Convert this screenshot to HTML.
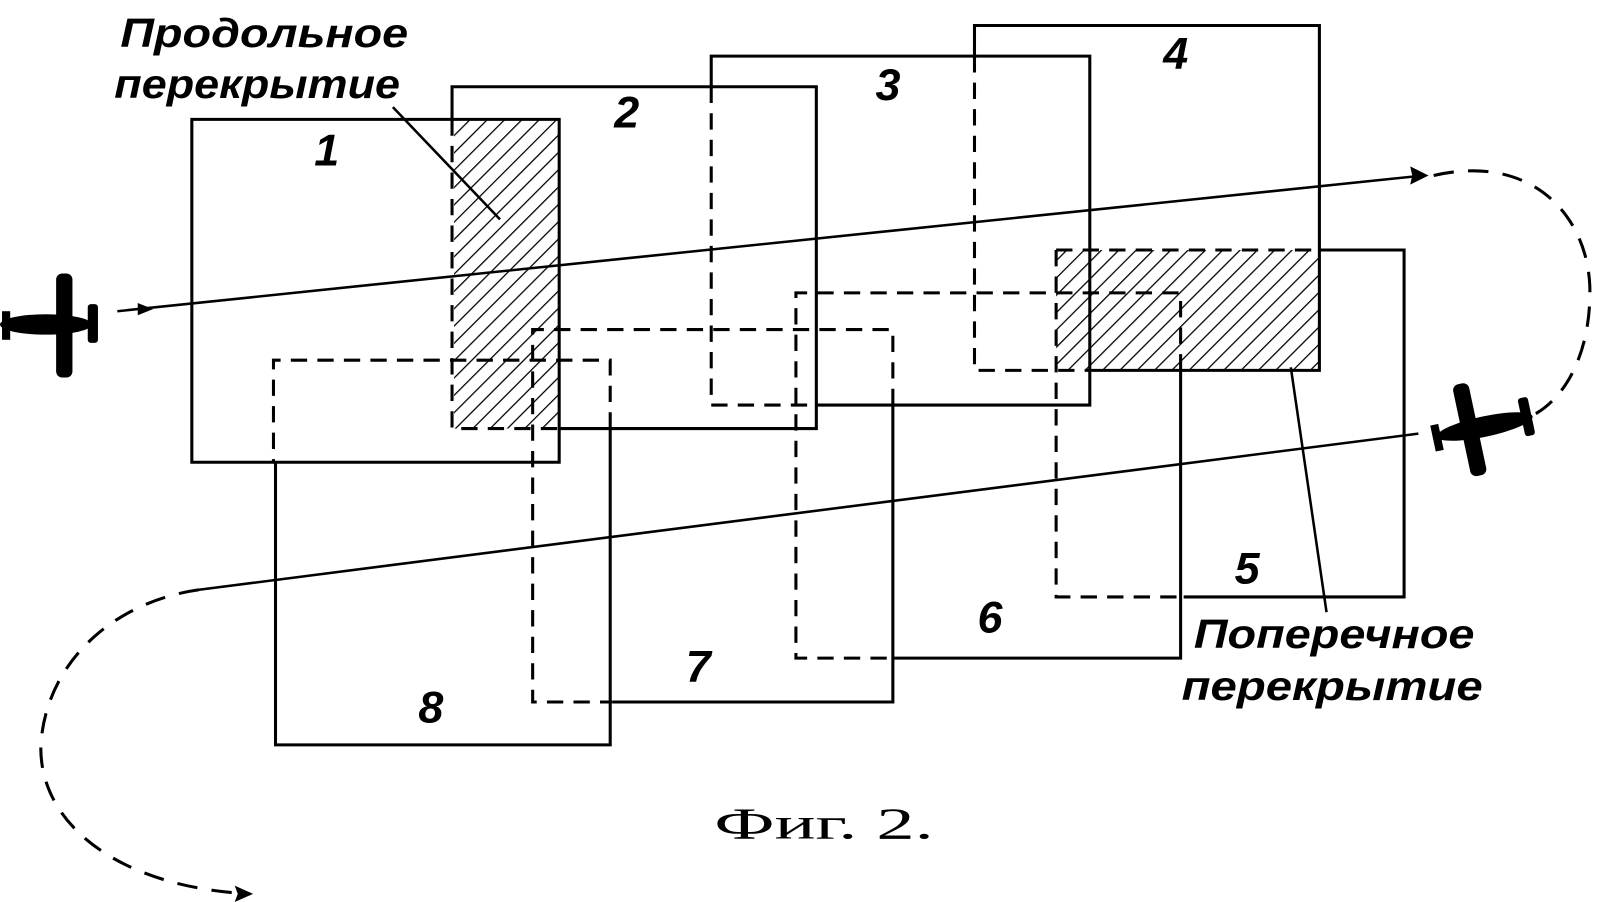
<!DOCTYPE html>
<html><head><meta charset="utf-8"><style>html,body{margin:0;padding:0;background:#fff;width:1600px;height:902px;overflow:hidden}</style></head>
<body>
<svg width="1600" height="902" viewBox="0 0 1568 884" preserveAspectRatio="none" xmlns="http://www.w3.org/2000/svg">
<defs>
<pattern id="h" width="12" height="12" patternUnits="userSpaceOnUse" patternTransform="rotate(45)">
<line x1="0" y1="0" x2="0" y2="12" stroke="#000" stroke-width="2.5"/></pattern>
</defs>
<rect width="1568" height="884" fill="#fff"/>
<rect x="445" y="117" width="103" height="303" fill="url(#h)"/>
<rect x="1035" y="245" width="258" height="118" fill="url(#h)"/>
<g fill="none" stroke="#000" stroke-width="3">
<path d="M188 117H548V453H188Z"/>
<path d="M443 117V85H800V420H548"/>
<path d="M697 85V55H1068V397H800"/>
<path d="M955 55V25H1293V363H1068"/>
<path d="M1293 245H1376V585H1160"/>
<path d="M1157 363V645H875"/>
<path d="M875 397V688H600"/>
<path d="M598 420V730H270V453"/>
</g>
<g fill="none" stroke="#000" stroke-width="3" stroke-dasharray="16 10">
<path d="M443 117V420H548"/>
<path d="M697 85V397H800"/>
<path d="M955 55V363H1068"/>
<path d="M1035 245H1293M1035 245V585H1160"/>
<path d="M1157 363V287H780V645H875"/>
<path d="M875 397V323H522V688H600"/>
<path d="M598 420V353H268V453"/>
</g>
<g stroke="#000" stroke-width="2.5" fill="none">
<line x1="115" y1="305" x2="1395" y2="172"/>
<line x1="1390" y1="425" x2="195" y2="578"/>
<line x1="385" y1="105" x2="490" y2="215"/>
<line x1="1265" y1="360" x2="1300" y2="600"/>
</g>
<path d="M1400 172l-18-9 2 9-2 9z" fill="#000"/>
<path d="M150 303l-15-6 0 12z" fill="#000"/>
<g fill="none" stroke="#000" stroke-width="3" stroke-dasharray="20 14">
<path d="M1405 172C1500 150 1555 210 1558 280C1560 350 1530 400 1490 412"/>
<path d="M195 578C110 590 45 650 40 730C38 810 120 870 245 876"/>
</g>
<path d="M248 876l-18-8 3 8-3 8z" fill="#000"/>
<g fill="#000">
<ellipse cx="45" cy="318" rx="45" ry="10"/>
<rect x="55" y="268" width="16" height="102" rx="6"/>
<rect x="86" y="298" width="10" height="38" rx="3"/>
<rect x="2" y="305" width="8" height="28"/>
</g>
<g fill="#000" transform="rotate(-12 1455 418)">
<ellipse cx="1455" cy="418" rx="48" ry="10"/>
<rect x="1432" y="372" width="16" height="92" rx="6"/>
<rect x="1492" y="398" width="10" height="38" rx="3"/>
<rect x="1403" y="406" width="8" height="26"/>
</g>
<g font-family="Liberation Sans, sans-serif" font-style="italic" font-weight="bold" font-size="40" fill="#000">
<text x="118" y="46" textLength="282" lengthAdjust="spacingAndGlyphs">Продольное</text>
<text x="112" y="96" textLength="280" lengthAdjust="spacingAndGlyphs">перекрытие</text>
<text x="1170" y="635" textLength="275" lengthAdjust="spacingAndGlyphs">Поперечное</text>
<text x="1158" y="686" textLength="295" lengthAdjust="spacingAndGlyphs">перекрытие</text>
<g font-size="44">
<text x="308" y="162">1</text>
<text x="602" y="125">2</text>
<text x="858" y="98">3</text>
<text x="1140" y="67">4</text>
<text x="1210" y="572">5</text>
<text x="958" y="620">6</text>
<text x="672" y="668">7</text>
<text x="410" y="708">8</text>
</g>
</g>
<text x="700" y="822" font-family="Liberation Serif, serif" font-size="44" fill="#000" textLength="215" lengthAdjust="spacingAndGlyphs">Фиг. 2.</text>
</svg>
</body></html>
